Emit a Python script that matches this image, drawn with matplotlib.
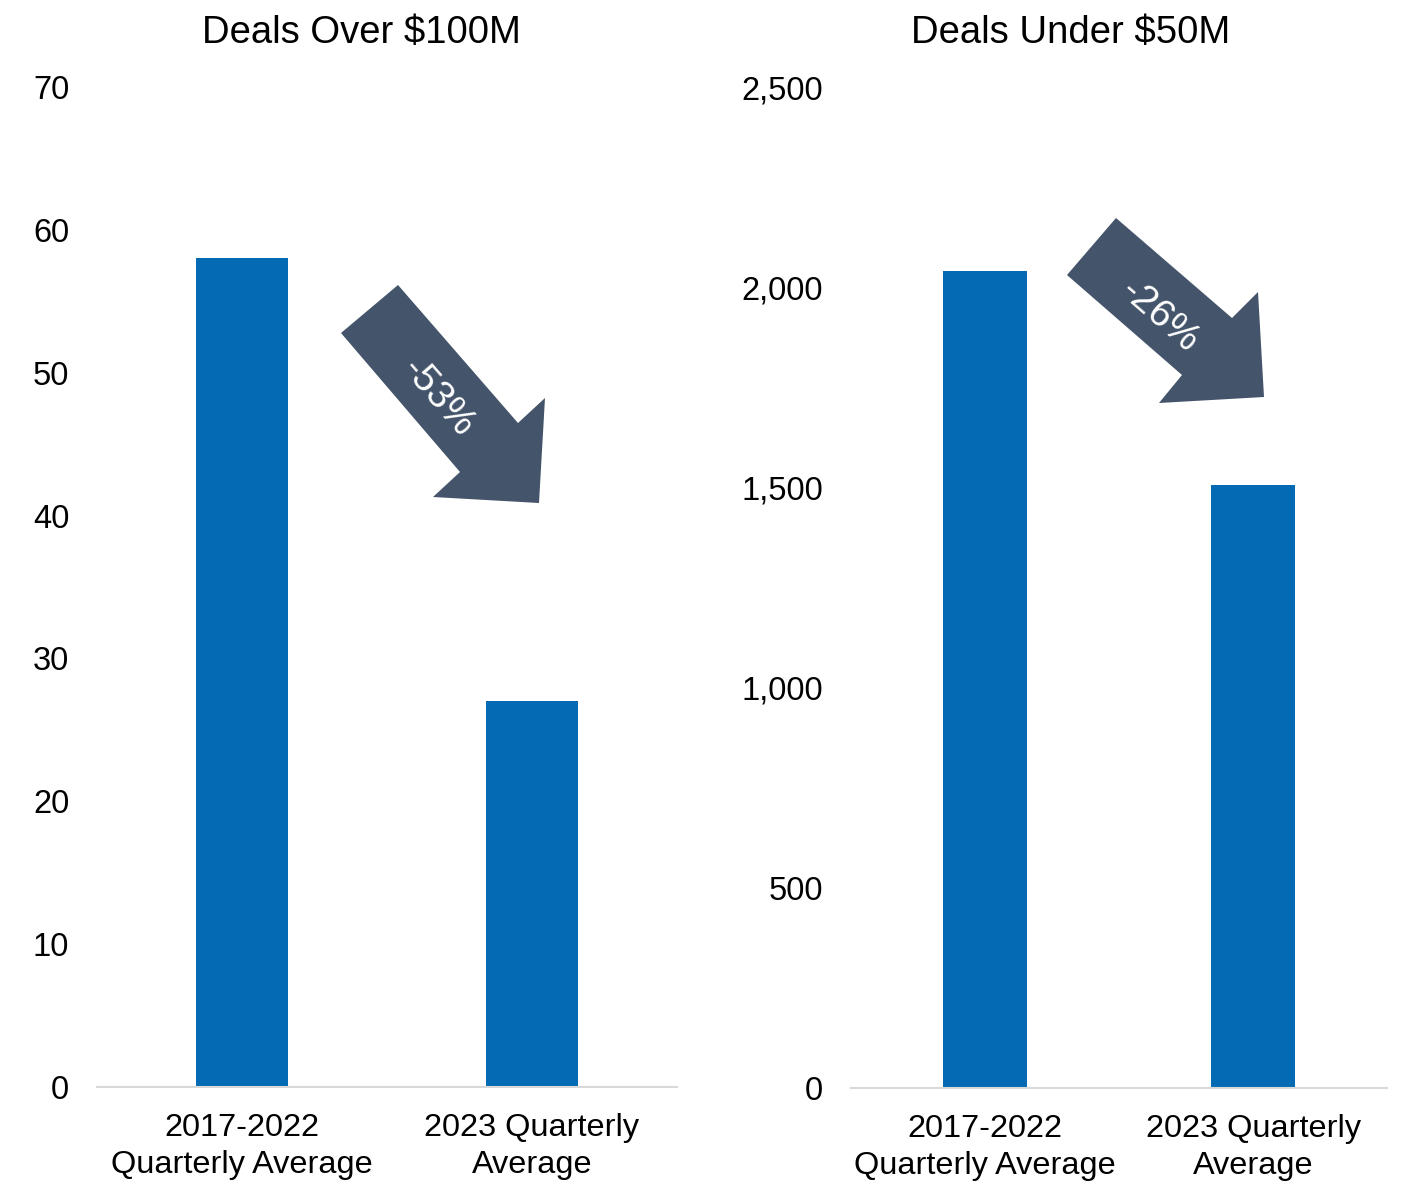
import matplotlib
matplotlib.use("Agg")
import matplotlib.pyplot as plt
from matplotlib.patches import Polygon

plt.rcParams['font.family'] = ['Liberation Sans', 'DejaVu Sans']

categories = ['2017-2022\nQuarterly Average', '2023 Quarterly\nAverage']
over_100m = [58, 27]
under_50m = [2042, 1507]
over_change = '-53%'
under_change = '-26%'

bar_color = '#046AB3'
arrow_color = '#44546A'
axis_color = '#D9D9D9'

W, H = 1404, 1184
fig = plt.figure(figsize=(W / 100, H / 100), dpi=100)


def px(x, y):
    # pixel position (from top-left) to figure fraction
    return (x / W, 1 - y / H)


def setup(ax, values, ymax, step, fmt):
    x = range(len(values))
    ax.bar(x, values, width=0.315, color=bar_color, zorder=2)
    ax.set_xlim(-0.5, 1.5)
    ax.set_ylim(0, ymax)
    ax.set_yticks(range(0, ymax + 1, step))
    ax.set_yticklabels([fmt(v) for v in range(0, ymax + 1, step)])
    ax.set_xticks(list(x))
    ax.set_xticklabels(categories, linespacing=1.29)
    for s in ['top', 'right', 'left']:
        ax.spines[s].set_visible(False)
    ax.spines['bottom'].set_color(axis_color)
    ax.spines['bottom'].set_linewidth(1.5)
    ax.tick_params(axis='y', length=0, pad=20, labelsize=23.5)
    ax.tick_params(axis='x', length=0, pad=19, labelsize=23.4)


ax1 = fig.add_axes([97 / W, 97 / H, 580 / W, 1000 / H])
setup(ax1, over_100m, 70, 10, lambda v: f'{v}')

ax2 = fig.add_axes([851 / W, 96 / H, 536 / W, 1000 / H])
setup(ax2, under_50m, 2500, 500, lambda v: f'{v:,}')

fig.text(*px(361, 33), 'Deals Over $100M', ha='center', va='center', fontsize=27.5)
fig.text(*px(1071, 33), 'Deals Under $50M', ha='center', va='center', fontsize=27.5)

# block arrows showing the drop
arrow_left = [(398, 285), (518, 423), (545, 398), (539, 503),
              (433, 497), (460, 472), (341, 333)]
arrow_right = [(1116, 218), (1232, 318), (1258, 292), (1264, 397),
               (1159, 403), (1182, 375), (1067, 275)]
for pts in (arrow_left, arrow_right):
    fig.patches.append(Polygon([px(x, y) for x, y in pts], closed=True,
                               facecolor=arrow_color, edgecolor='none',
                               transform=fig.transFigure, zorder=5))

fig.text(*px(438, 398), over_change, ha='center', va='center', rotation=-49,
         rotation_mode='anchor', color='white', fontsize=28, zorder=6)
fig.text(*px(1159, 316), under_change, ha='center', va='center', rotation=-41,
         rotation_mode='anchor', color='white', fontsize=28, zorder=6)

fig.savefig('out.png', dpi=100)
